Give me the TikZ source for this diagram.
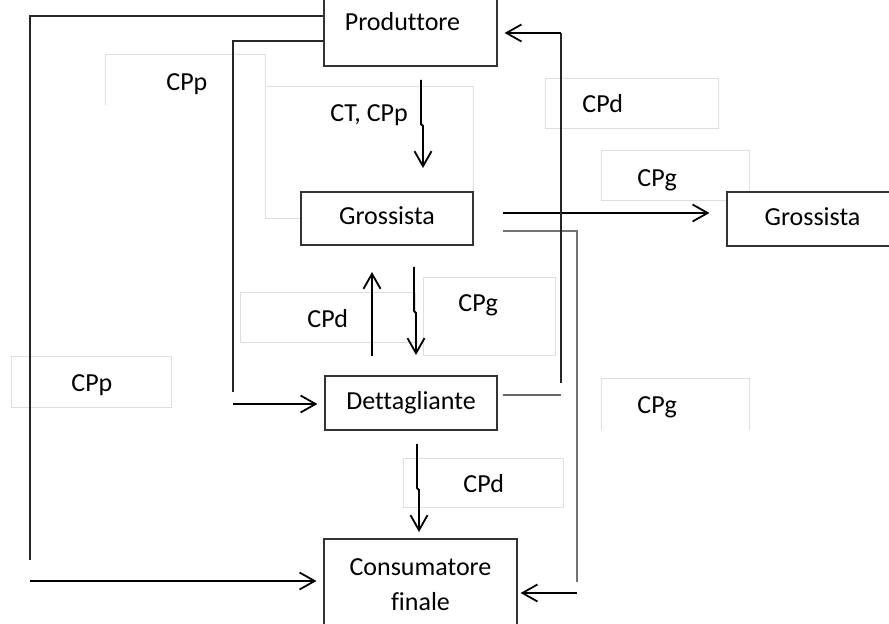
\documentclass[tikz,border=0pt]{standalone}
\usepackage{fontspec}
\setmainfont[Ligatures={NoCommon}]{Carlito}
\usetikzlibrary{arrows.meta}
\begin{document}
\begin{tikzpicture}[x=0.5pt,y=-0.5pt,
 box/.style={draw=black!80, line width=0.6pt, fill=white, inner sep=0pt,
   font=\fontsize{13}{17.5}\selectfont},
 onel/.style={text height=0.644em, text depth=0pt},
 lbl/.style={font=\fontsize{13}{16}\selectfont, inner sep=0pt, anchor=base west},
 faint/.style={draw=black!13, line width=0.5pt},
 wire/.style={draw=black!85, line width=0.55pt},
 arr/.style={draw=black, line width=0.9pt, -{Straight Barb[length=7.5pt,width=8.5pt,line width=0.9pt]}},
]
\useasboundingbox (0,0) rectangle (889,624);
\clip (0,0) rectangle (889,624);
\fill[white] (0,0) rectangle (889,624);

% faint label boxes
\draw[faint] (105,105) -- (105,55) -- (265,55) -- (265,219) -- (301,219);
\draw[faint] (265,87) -- (473,87) -- (473,192);
\draw[faint] (545,79) rectangle (718,129);
\draw[faint] (601,151) rectangle (749,201);
\draw[faint] (240,293) rectangle (415,343);
\draw[faint] (423,278) rectangle (555,356);
\draw[faint] (11,357) rectangle (171,408);
\draw[faint] (601,430) -- (601,379) -- (749,379) -- (749,430);
\draw[faint] (403,459) rectangle (563,508);

\node[lbl] (l1) at (166,91) {CPp};
\node[lbl] (l2) at (330,122) {CT, CPp};
\node[lbl] (l3) at (582,113) {CPd};
\node[lbl] (l4) at (637,187) {CPg};
\node[lbl] (l5) at (307,328) {CPd};
\node[lbl] (l6) at (458,312) {CPg};
\node[lbl] (l7) at (71,392) {CPp};
\node[lbl] (l8) at (637,414) {CPg};
\node[lbl] (l9) at (463,493) {CPd};

% main boxes
\node[box,onel,minimum width=86.5pt,minimum height=42pt] (prod) at (410.5,24) {Produttore\hspace*{8pt}};
\node[box,onel,minimum width=86pt,minimum height=26.5pt] (gross) at (387,218.5) {Grossista};
\node[box,onel,minimum width=82.5pt,minimum height=27pt] (gross2) at (809.5,219) {\hspace*{3pt}Grossista};
\node[box,onel,minimum width=86pt,minimum height=27pt] (dett) at (411,403) {Dettagliante};
\node[box,align=center,minimum width=96.5pt,minimum height=46pt] (cons) at (420.5,585) {Consumatore\\finale};

% coordinates
\coordinate (a1) at (30,16);
\coordinate (a2) at (30,560);
\coordinate (a3) at (30,581);
\coordinate (b1) at (233,41);
\coordinate (b2) at (233,392);
\coordinate (b3) at (233,404);
\coordinate (c1) at (503,213);
\coordinate (d1) at (503,231);
\coordinate (d2) at (577,231);
\coordinate (d3) at (577,582);
\coordinate (d4) at (577,593);
\coordinate (e1) at (503,395);
\coordinate (e2) at (561,395);
\coordinate (e3) at (561,383);
\coordinate (e4) at (561,33);

% wires
\draw[wire] (prod.west |- a1) -- (a1) -- (a2);
\draw[arr, shorten >=3.5pt] (a3) -- (cons.west |- a3);
\draw[wire] (prod.west |- b1) -- (b1) -- (b2);
\draw[arr, shorten >=3.5pt] (b3) -- (dett.west |- b3);
\draw[arr, shorten >=8.5pt] (c1) -- (gross2.west |- c1);
\draw[wire, draw=black!55] (d1) -- (d2) -- (d3);
\draw[arr, shorten >=1.5pt] (d4) -- (cons.east |- d4);
\draw[wire, draw=black!60] (e1) -- (e2);
\draw[wire] (e3) -- (e4);
\draw[arr, shorten >=3.5pt] (e4) -- (prod.east |- e4);

% vertical arrows
\coordinate (f1) at (421,80);  \coordinate (f2) at (423,168);
\draw[arr] (f1) -- (421,124) -- (423,126) -- (f2);
\coordinate (g1) at (372,356); \coordinate (g2) at (372,272);
\draw[arr] (g1) -- (g2);
\coordinate (h1) at (414,267); \coordinate (h2) at (416,355);
\draw[arr] (h1) -- (414,311) -- (416,313) -- (h2);
\coordinate (k1) at (417,444); \coordinate (k2) at (419,532);
\draw[arr] (k1) -- (417,488) -- (419,490) -- (k2);
\end{tikzpicture}
\end{document}
